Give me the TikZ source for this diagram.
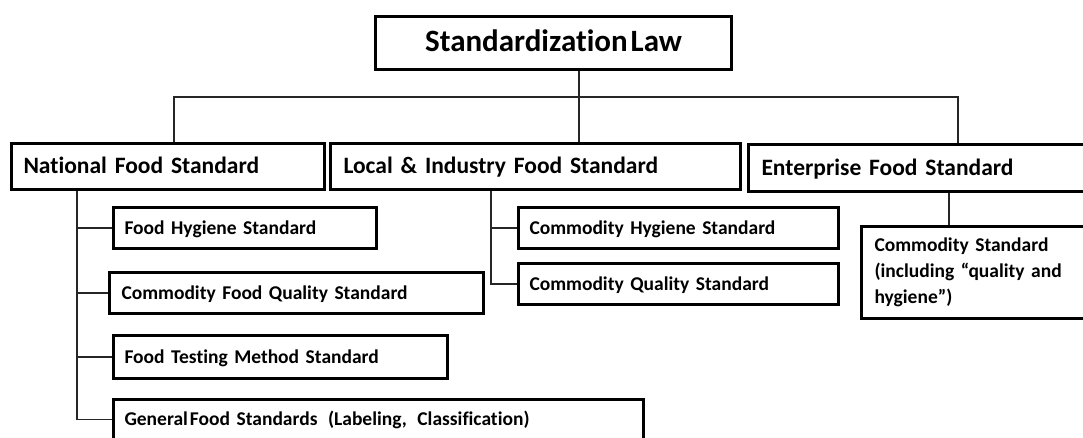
\documentclass[tikz,border=0pt]{standalone}
\usepackage{fontspec}
\setmainfont{Carlito}[Ligatures={NoCommon}]
\newcommand\fTitle{\fontsize{31}{36}\selectfont\bfseries}
\newcommand\fMid{\fontsize{23.5}{28}\selectfont\bfseries}
\newcommand\fSmall{\fontsize{19.5}{26}\selectfont\bfseries}
\begin{document}
\begin{tikzpicture}[x=1pt,y=-1pt,
  box/.style={draw=black,line width=3pt,rectangle,anchor=north west,inner ysep=0pt,align=left},
  titlebox/.style={box,inner sep=0pt,align=center,font=\fTitle,text height=20pt,text depth=3pt},
  midbox/.style={box,font=\fMid,text height=16pt,text depth=2pt},
  smallbox/.style={box,font=\fSmall,text height=14pt,text depth=2pt},
  conn/.style={draw=black!85,line width=1.2pt}]
\useasboundingbox (0,0) rectangle (1083,437);
\clip (0,0) rectangle (1083,437);
% top
\node[titlebox,minimum width=356pt,minimum height=53pt] (law) at (374,15) {Standardization\hspace{3pt}Law};
% second level
\node[midbox,inner xsep=12pt,text width=289pt,minimum height=46pt] (nat) at (10,142) {National Food Standard};
\node[midbox,inner xsep=13pt,text width=384pt,minimum height=46pt] (loc) at (329,142) {Local \& Industry Food Standard};
\node[midbox,inner xsep=13pt,text width=324pt,minimum height=47pt] (ent) at (747,143) {Enterprise Food Standard};
% national children
\node[smallbox,inner xsep=11pt,text width=241pt,minimum height=41pt] (fh) at (112,206) {Food Hygiene Standard};
\node[smallbox,inner xsep=12pt,text width=350pt,minimum height=41pt] (cfq) at (108,271) {Commodity Food Quality Standard};
\node[smallbox,inner xsep=11pt,text width=312pt,minimum height=43pt] (ft) at (112,334) {Food Testing Method Standard};
\node[smallbox,inner xsep=11pt,text width=508pt,minimum height=40pt] (gen) at (112,398) {General\hspace{2pt}Food Standards\hspace{4pt} (Labeling,\hspace{4pt} Classification)};
% local children
\node[smallbox,inner xsep=11pt,text width=298pt,minimum height=41pt] (ch) at (517,206) {Commodity Hygiene Standard};
\node[smallbox,inner xsep=11pt,text width=298pt,minimum height=41pt] (cq) at (517,262) {Commodity Quality Standard};
% enterprise child
\node[box,font=\fSmall,inner xsep=13pt,text width=210pt,minimum height=92pt] (cs) at (860,225) {Commodity Standard\\\makebox[187pt][s]{(including “quality and}\\hygiene”)};
% connectors
\coordinate (j0) at (579,97);
\coordinate (h1) at (174,97);
\coordinate (h3) at (958,97);
\draw[conn] (law.south -| j0) -- (j0 |- loc.north);
\draw[conn] (h1 |- nat.north) -- (h1) -- (h3) -- (h3 |- ent.north);
\coordinate (v1) at (77,0);
\draw[conn] (v1 |- nat.south) -- (v1 |- gen.west) -- (gen.west);
\draw[conn] (v1 |- fh.west) -- (fh.west);
\draw[conn] (v1 |- cfq.west) -- (cfq.west);
\draw[conn] (v1 |- ft.west) -- (ft.west);
\coordinate (v2) at (491,0);
\draw[conn] (v2 |- loc.south) -- (v2 |- cq.west) -- (cq.west);
\draw[conn] (v2 |- ch.west) -- (ch.west);
\coordinate (v3) at (949,0);
\draw[conn] (v3 |- ent.south) -- (v3 |- cs.north);
\end{tikzpicture}
\end{document}
